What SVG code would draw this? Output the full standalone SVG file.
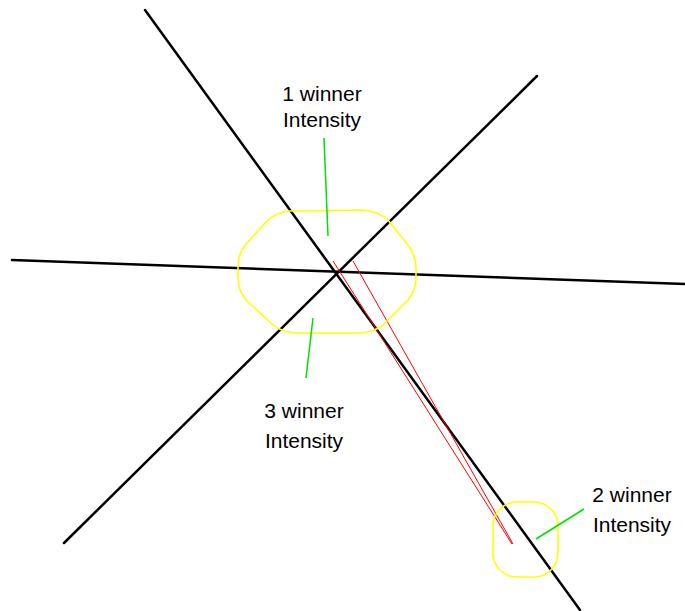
<svg xmlns="http://www.w3.org/2000/svg" width="685" height="611" viewBox="0 0 685 611">
<style>
.blk{stroke:#000;stroke-width:2.5;fill:none;stroke-linecap:round}
.red{stroke:#ff0000;stroke-width:1;fill:none}
.grn{stroke:#00e000;stroke-width:1.5;fill:none}
.yel{stroke:#ffff00;stroke-width:1.6;fill:none}
.lbl{font-family:"Liberation Sans",Arial,sans-serif;font-size:21px;fill:#000;text-anchor:middle}
</style>
<rect width="685" height="611" fill="#fff"/>
<g id="lines">
<line class="blk" x1="145" y1="10" x2="580" y2="610"/>
<line class="blk" x1="64" y1="543" x2="537" y2="76"/>
<line class="blk" x1="12" y1="260" x2="685" y2="284"/>
</g>
<g id="red-lines">
<line class="red" x1="333" y1="261" x2="512" y2="544"/>
<line class="red" x1="353" y1="261" x2="513" y2="544"/>
</g>
<g id="regions">
<path class="yel" d="M290,211 L362,210 Q378,211 388,220 L408,245 Q416,256 416,268 L416,278 Q416,290 408,300 L384,324 Q374,333 358,333 L298,333 Q282,333 272,324 L246,300 Q238,290 238,278 L238,266 Q238,254 246,244 L266,222 Q276,212 290,211 Z"/>
<rect class="yel" x="493" y="502" width="65" height="75" rx="24" ry="24"/>
</g>
<g id="connectors">
<line class="grn" x1="324" y1="138" x2="328" y2="236"/>
<line class="grn" x1="313" y1="318" x2="306" y2="378"/>
<line class="grn" x1="536" y1="539" x2="584" y2="509"/>
</g>
<g id="label1">
<text class="lbl" x="322" y="101">1 winner</text>
<text class="lbl" x="322" y="127">Intensity</text>
</g>
<g id="label3">
<text class="lbl" x="304" y="418">3 winner</text>
<text class="lbl" x="304" y="448">Intensity</text>
</g>
<g id="label2">
<text class="lbl" x="632" y="502">2 winner</text>
<text class="lbl" x="632" y="532">Intensity</text>
</g>
</svg>
